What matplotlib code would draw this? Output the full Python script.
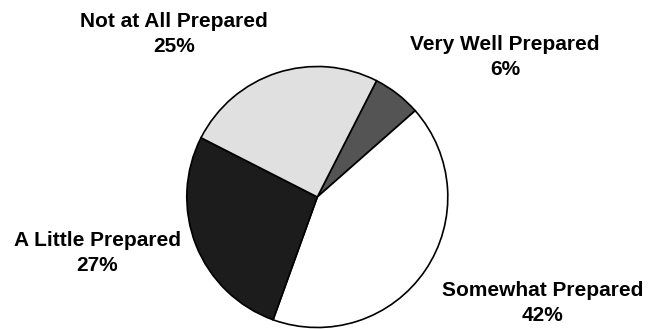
import matplotlib
matplotlib.use("Agg")
import matplotlib.pyplot as plt

# Survey responses: how prepared respondents feel
categories = ["Very Well Prepared", "Somewhat Prepared", "A Little Prepared", "Not at All Prepared"]
shares = [6, 42, 27, 25]
colors = ["#545454", "#ffffff", "#1c1c1c", "#e0e0e0"]

# Label anchor points (pixel layout, y measured from top)
label_pos = {
    "Very Well Prepared": (505, 57),
    "Somewhat Prepared": (543, 303),
    "A Little Prepared": (97, 253),
    "Not at All Prepared": (174, 34),
}

W, H = 649, 329
fig = plt.figure(figsize=(W / 100, H / 100), dpi=100)
ax = fig.add_axes([0, 0, 1, 1])

ax.pie(
    shares,
    colors=colors,
    startangle=63,
    counterclock=False,
    center=(317.3, H - 197),
    radius=130.5,
    wedgeprops=dict(edgecolor="black", linewidth=1.2),
)
ax.set_xlim(0, W)
ax.set_ylim(0, H)
ax.set_aspect("equal")
ax.axis("off")

for cat, val in zip(categories, shares):
    x, y = label_pos[cat]
    ax.text(x, H - y, f"{cat}\n{val}%", ha="center", va="center",
            fontsize=15, fontweight="bold", family="Liberation Sans",
            linespacing=1.36, color="black")

fig.savefig("out.png", dpi=100, facecolor="white")
